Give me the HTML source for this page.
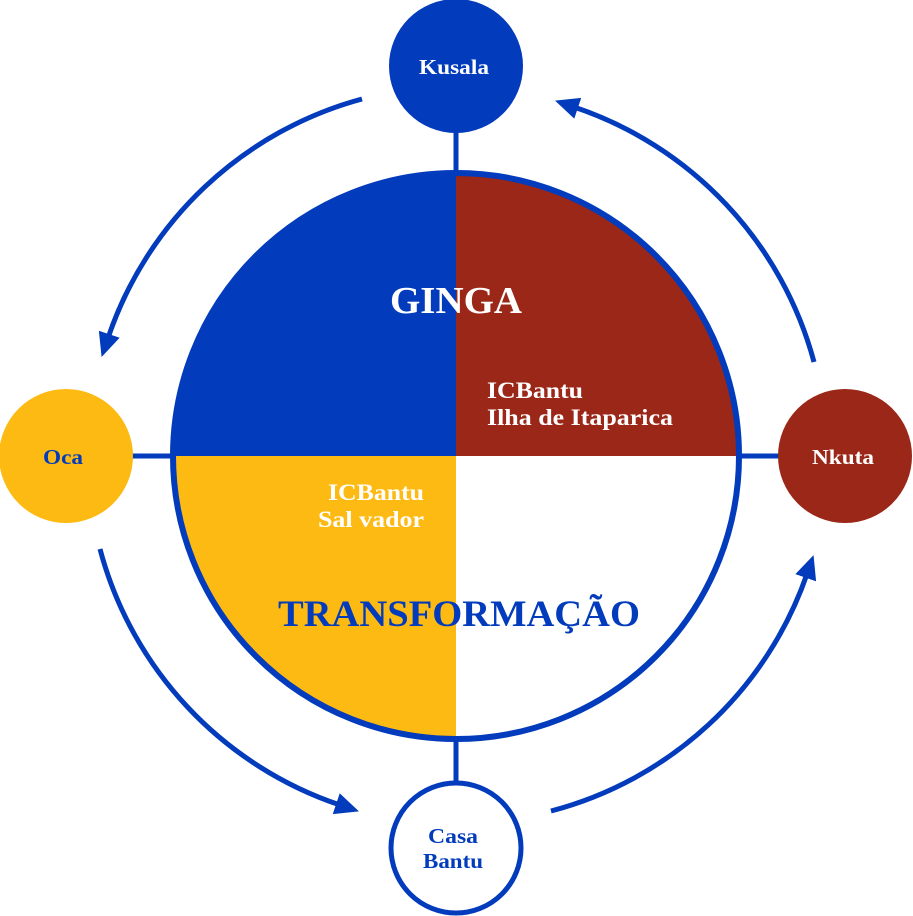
<!DOCTYPE html>
<html><head><meta charset="utf-8"><style>
html,body{margin:0;padding:0;background:#fff}
svg{display:block}
text{font-family:"Liberation Serif",serif;font-weight:bold}
</style></head><body>
<svg width="913" height="916" viewBox="0 0 913 916" xmlns="http://www.w3.org/2000/svg">
<defs>
<marker id="a" markerUnits="userSpaceOnUse" markerWidth="26" markerHeight="24" refX="4" refY="11" orient="auto">
<path d="M0,0 L24,11 L0,22 z" fill="#023bbb"/>
</marker>
</defs>
<g stroke="#023bbb" stroke-width="5">
<line x1="456" y1="130" x2="456" y2="175"/>
<line x1="456" y1="740" x2="456" y2="783"/>
<line x1="130" y1="456" x2="175" y2="456"/>
<line x1="740" y1="456" x2="782" y2="456"/>
</g>
<path d="M456,456 L456,173 A283,283 0 0 0 173,456 Z" fill="#023bbb"/>
<path d="M456,456 L456,173 A283,283 0 0 1 739,456 Z" fill="#9b2718"/>
<path d="M456,456 L173,456 A283,283 0 0 0 456,739 Z" fill="#fdba12"/>
<circle cx="456" cy="456" r="283" fill="none" stroke="#023bbb" stroke-width="6"/>
<g fill="none" stroke="#023bbb" stroke-width="5" marker-end="url(#a)">
<path d="M362,99 A370,370 0 0 0 108,338"/>
<path d="M814,362 A370,370 0 0 0 574,107"/>
<path d="M100,549 A370,370 0 0 0 340,805"/>
<path d="M551,811 A370,370 0 0 0 807,574"/>
</g>
<circle cx="456" cy="66" r="67" fill="#023bbb"/>
<circle cx="66" cy="456" r="67" fill="#fdba12"/>
<circle cx="845" cy="456" r="67" fill="#9b2718"/>
<circle cx="456" cy="848" r="65" fill="#fff" stroke="#023bbb" stroke-width="5"/>
<text x="419" y="74" font-size="21" fill="#fff" textLength="70" lengthAdjust="spacingAndGlyphs">Kusala</text>
<text x="43" y="464" font-size="21" fill="#023bbb" textLength="40" lengthAdjust="spacingAndGlyphs">Oca</text>
<text x="812" y="464" font-size="21" fill="#fff" textLength="62" lengthAdjust="spacingAndGlyphs">Nkuta</text>
<text x="428" y="843" font-size="21" fill="#023bbb" textLength="50" lengthAdjust="spacingAndGlyphs">Casa</text>
<text x="423" y="868" font-size="21" fill="#023bbb" textLength="60" lengthAdjust="spacingAndGlyphs">Bantu</text>
<text x="390" y="313" font-size="38" fill="#fff" textLength="132" lengthAdjust="spacingAndGlyphs">GINGA</text>
<text x="487" y="398" font-size="23" fill="#fff" textLength="96" lengthAdjust="spacingAndGlyphs">ICBantu</text>
<text x="487" y="425" font-size="23" fill="#fff" textLength="186" lengthAdjust="spacingAndGlyphs">Ilha de Itaparica</text>
<text x="328" y="500" font-size="23" fill="#fff" textLength="96" lengthAdjust="spacingAndGlyphs">ICBantu</text>
<text x="318" y="527" font-size="23" fill="#fff" textLength="106" lengthAdjust="spacingAndGlyphs">Sal vador</text>
<text x="278" y="626" font-size="37" fill="#023bbb" textLength="362" lengthAdjust="spacingAndGlyphs">TRANSFORMAÇÃO</text>
</svg>
</body></html>
